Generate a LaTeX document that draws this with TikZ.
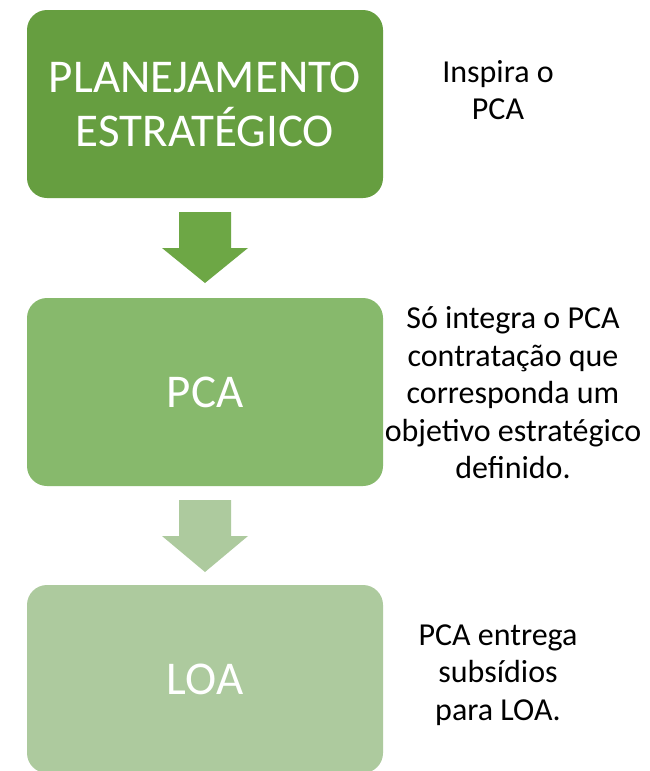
\documentclass[tikz,border=0pt]{standalone}
\usepackage{fontspec}
\setmainfont{Carlito}
\definecolor{gA}{HTML}{669E40}
\definecolor{gAr}{HTML}{6DA745}
\definecolor{gB}{HTML}{87B96C}
\definecolor{gC}{HTML}{ADCA9E}
\begin{document}
\begin{tikzpicture}[x=1pt,y=-1pt,
  stage/.style={rectangle,rounded corners=20pt,minimum width=356pt,minimum height=188pt,inner sep=0pt,text=white,align=center,font=\fontsize{47}{54}\selectfont},
  note/.style={align=center,text=black,inner sep=0pt,font=\fontsize{32}{37.5}\selectfont}]
\useasboundingbox (0,0) rectangle (649,771);
\fill[white] (0,0) rectangle (649,771);
\node[stage,fill=gA] (b1) at (205,104) {PLANEJAMENTO\\ESTRATÉGICO};
\node[stage,fill=gB] (b2) at (205,392) {PCA};
\node[stage,fill=gC] (b3) at (205,679) {LOA};
\fill[gAr] (179,212) -- (231,212) -- (231,248) -- (248,248) -- (205,283) -- (162,248) -- (179,248) -- cycle;
\fill[gC] (179,500) -- (231,500) -- (231,536) -- (248,536) -- (205,572) -- (162,536) -- (179,536) -- cycle;
\node[note] (n1) at (498,90) {Inspira o\\PCA};
\node[note] (n2) at (513,393) {Só integra o PCA\\contratação que\\corresponda um\\objetivo estratégico\\definido.};
\node[note] (n3) at (498,675) {PCA entrega\\subsídios\\para LOA.};
\end{tikzpicture}
\end{document}
